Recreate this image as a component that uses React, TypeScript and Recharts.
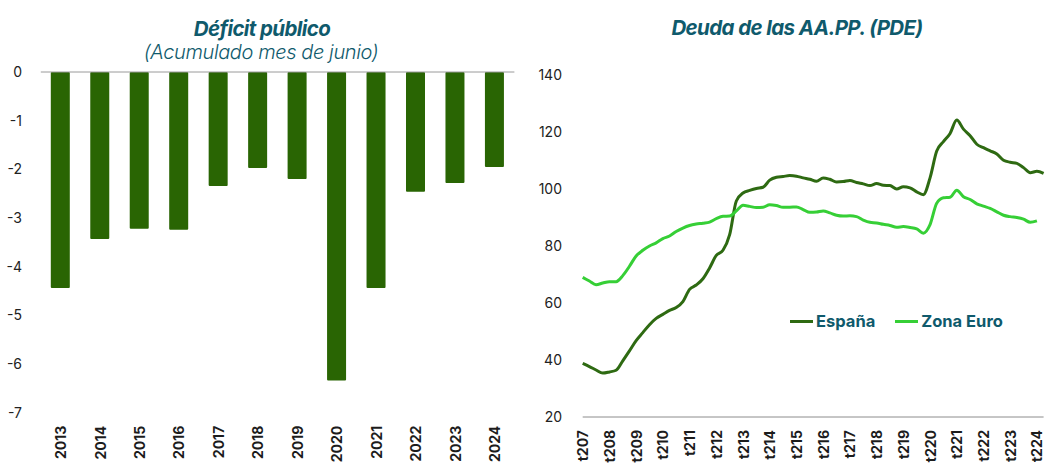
import { Bar, BarChart, Legend, Line, LineChart, ReferenceLine, XAxis, YAxis } from "recharts";

const FONT = "Inter, 'Open Sans', sans-serif";
const TEAL = "#0f5a6c";
const BAR_GREEN = "#296503";
const SPAIN_GREEN = "#2e6a12";
const EURO_GREEN = "#36cf36";

// Déficit público (acumulado a junio), % PIB
const deficitYears = ["2013", "2014", "2015", "2016", "2017", "2018", "2019", "2020", "2021", "2022", "2023", "2024"];
const deficitValues = [-4.44, -3.43, -3.22, -3.24, -2.34, -1.97, -2.2, -6.34, -4.44, -2.46, -2.28, -1.95];
const deficitTicks = [0, -1, -2, -3, -4, -5, -6, -7];

// Deuda AA.PP. (PDE), % PIB, trimestral
const debtYearLabels = [
  "t207", "t208", "t209", "t210", "t211", "t212", "t213", "t214", "t215",
  "t216", "t217", "t218", "t219", "t220", "t221", "t222", "t223", "t224"
];
const spainDebt = [
  38.8, 37.7, 36.5, 35.4, 35.8, 36.4, 39.7, 43.2, 46.8, 49.6,
  52.4, 54.6, 56.0, 57.4, 58.4, 60.5, 64.8, 66.3, 68.5, 72.3,
  76.7, 78.5, 84.0, 95.8, 98.6, 99.5, 100.2, 100.6, 103.1, 104.1,
  104.4, 104.7, 104.5, 103.9, 103.4, 102.7, 103.9, 103.4, 102.5, 102.6,
  103.0, 102.3, 101.8, 101.2, 101.9, 101.3, 101.2, 100.0, 100.8, 100.4,
  99.0, 98.0, 103.9, 113.3, 116.6, 119.5, 124.2, 121.0, 118.7, 115.7,
  114.5, 113.4, 112.3, 110.1, 109.4, 109.0, 107.5, 105.7, 106.2, 105.5
];
const euroDebt = [
  69.0, 67.7, 66.4, 67.0, 67.5, 67.5, 69.6, 72.9, 76.5, 78.5,
  80.0, 81.1, 82.6, 83.5, 85.1, 86.3, 87.2, 87.7, 88.0, 88.4,
  89.6, 90.4, 90.5, 92.3, 94.3, 93.9, 93.5, 93.6, 94.5, 94.2,
  93.6, 93.6, 93.7, 92.8, 91.8, 91.9, 92.3, 91.6, 90.8, 90.5,
  90.6, 90.3, 89.1, 88.3, 88.1, 87.6, 87.2, 86.6, 86.8, 86.5,
  86.0, 84.5, 87.5, 95.0, 96.9, 97.1, 99.6, 97.3, 96.3, 94.8,
  94.0, 93.2, 92.0, 90.8, 90.3, 90.0, 89.4, 88.3, 88.8
];
const debtTicks = [20, 40, 60, 80, 100, 120, 140];

const deficitData = deficitYears.map((year, i) => ({ year, value: deficitValues[i] }));

const debtData = spainDebt.map((v, i) => {
  const yearIdx = Math.min(Math.floor(i / 4), debtYearLabels.length - 1);
  return {
    quarter: `${debtYearLabels[yearIdx]}-${i}`,
    spain: v,
    euro: i < euroDebt.length ? euroDebt[i] : null
  };
});

function RotatedTick(props: any) {
  const { x, y, payload, offset } = props;
  const label = String(payload.value).split("-")[0];
  return (
    <text
      transform={`translate(${x},${y + offset}) rotate(-90)`}
      textAnchor="end"
      dominantBaseline="central"
      fontFamily={FONT}
      fontSize={14}
      fontWeight={700}
      fill="#1c1c1c"
    >
      {label}
    </text>
  );
}

function DebtLegend() {
  const item = (color: string, text: string, gap: number) => (
    <div style={{ display: "flex", alignItems: "center", marginRight: gap }}>
      <span style={{ display: "inline-block", width: 23, height: 3, background: color, marginRight: 3 }} />
      <span style={{ fontFamily: FONT, fontSize: 16.5, fontWeight: 700, color: TEAL }}>{text}</span>
    </div>
  );
  return (
    <div style={{ display: "flex", alignItems: "center" }}>
      {item(SPAIN_GREEN, "España", 20)}
      {item(EURO_GREEN, "Zona Euro", 0)}
    </div>
  );
}

const titleStyle: React.CSSProperties = {
  position: "absolute",
  fontFamily: FONT,
  fontStyle: "italic",
  color: TEAL,
  whiteSpace: "nowrap",
  transform: "translateX(-50%)",
  letterSpacing: -0.6
};

export default function App() {
  return (
    <div style={{ position: "absolute", left: 0, top: 0, width: 1051, height: 464, background: "#fff", overflow: "hidden" }}>
      <div style={{ ...titleStyle, left: 262, top: 16, fontSize: 20.5, fontWeight: 700 }}>Déficit público</div>
      <div style={{ ...titleStyle, left: 261, top: 40, fontSize: 20, fontWeight: 300, letterSpacing: -0.4 }}>
        (Acumulado mes de junio)
      </div>
      <div style={{ ...titleStyle, left: 797, top: 15, fontSize: 20.5, fontWeight: 700 }}>Deuda de las AA.PP. (PDE)</div>

      <div style={{ position: "absolute", left: 0, top: 0 }}>
        <BarChart width={520} height={464} data={deficitData} margin={{ top: 72, right: 5.6, bottom: 0, left: 0 }}>
          <YAxis
            width={40.8}
            domain={[-7, 0]}
            ticks={deficitTicks}
            axisLine={false}
            tickLine={false}
            tickMargin={12.8}
            tick={{ fontFamily: FONT, fontSize: 14, fill: "#222" }}
          />
          <XAxis
            dataKey="year"
            height={51.3}
            axisLine={false}
            tickLine={false}
            interval={0}
            tick={<RotatedTick offset={5} />}
          />
          <ReferenceLine y={0} stroke="#9a9a9a" strokeWidth={1} />
          <Bar dataKey="value" fill={BAR_GREEN} barSize={19} radius={1} isAnimationActive={false} />
        </BarChart>
      </div>

      <div style={{ position: "absolute", left: 520, top: 0 }}>
        <LineChart width={531} height={464} data={debtData} margin={{ top: 75, right: 7.4, bottom: 0, left: 0 }}>
          <YAxis
            width={62.7}
            domain={[20, 140]}
            ticks={debtTicks}
            axisLine={false}
            tickLine={false}
            tickMargin={14.7}
            tick={{ fontFamily: FONT, fontSize: 14, fill: "#222" }}
          />
          <XAxis
            dataKey="quarter"
            height={47}
            axisLine={{ stroke: "#8c8c8c", strokeWidth: 1 }}
            tickLine={false}
            interval={3}
            tick={<RotatedTick offset={5} />}
          />
          <Legend
            content={<DebtLegend />}
            layout="horizontal"
            verticalAlign="middle"
            align="center"
            wrapperStyle={{ position: "absolute", left: 270, top: 311, width: "auto" }}
          />
          <Line
            type="monotone"
            dataKey="spain"
            name="España"
            stroke={SPAIN_GREEN}
            strokeWidth={3}
            dot={false}
            isAnimationActive={false}
          />
          <Line
            type="monotone"
            dataKey="euro"
            name="Zona Euro"
            stroke={EURO_GREEN}
            strokeWidth={3}
            dot={false}
            connectNulls={false}
            isAnimationActive={false}
          />
        </LineChart>
      </div>
    </div>
  );
}
